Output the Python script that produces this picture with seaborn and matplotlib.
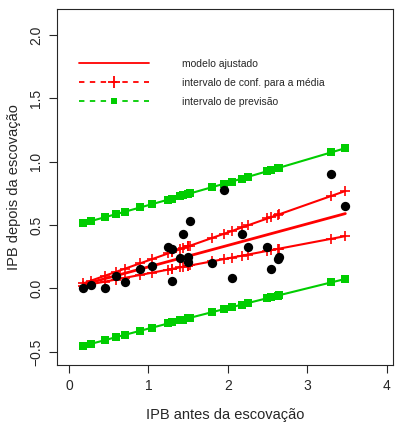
import numpy as np
import pandas as pd
import matplotlib
matplotlib.use("Agg")
import matplotlib.pyplot as plt
from matplotlib.lines import Line2D
import seaborn as sns

# dados (IPB antes / depois da escovação)
ipb_antes = [0.18, 0.28, 0.45, 0.59, 0.70, 0.90, 1.05, 1.25, 1.30, 1.30, 1.40, 1.44, 1.50,
             1.50, 1.53, 1.80, 1.95, 2.05, 2.18, 2.25, 2.50, 2.55, 2.63, 2.65, 3.30, 3.48]
ipb_depois = [0.00, 0.03, 0.00, 0.10, 0.05, 0.15, 0.18, 0.33, 0.31, 0.06, 0.24, 0.43, 0.25,
              0.21, 0.53, 0.20, 0.78, 0.08, 0.43, 0.33, 0.33, 0.15, 0.23, 0.25, 0.90, 0.65]
legenda = ["modelo ajustado", "intervalo de conf. para a média", "intervalo de previsão"]

datos = pd.DataFrame({"antes": ipb_antes, "depois": ipb_depois}).sort_values("antes")

# regressão pela origem (y = b*x) com intervalos de 99%
x = datos["antes"].to_numpy()
y = datos["depois"].to_numpy()
n = len(x)
sxx = np.sum(x ** 2)
b = np.sum(x * y) / sxx
ajuste = b * x
s = np.sqrt(np.sum((y - ajuste) ** 2) / (n - 1))
t = 2.787  # t(0.995, 25)
ep_media = s * np.sqrt(x ** 2 / sxx)
ep_prev = s * np.sqrt(1 + x ** 2 / sxx)
datos["ajuste"] = ajuste
datos["ic_inf"] = ajuste - t * ep_media
datos["ic_sup"] = ajuste + t * ep_media
datos["ip_inf"] = ajuste - t * ep_prev
datos["ip_sup"] = ajuste + t * ep_prev

sns.set_style("ticks")
plt.rcParams["font.family"] = ["Liberation Sans", "DejaVu Sans"]

fig = plt.figure(figsize=(3.98, 4.23), dpi=100)
ax = fig.add_axes([57 / 398, 58 / 423, 336 / 398, 356 / 423])

verde = "#00CD00"
vermelho = "#FF0000"
for col in ["ip_inf", "ip_sup"]:
    sns.lineplot(data=datos, x="antes", y=col, ax=ax, color=verde, lw=1.5, sort=False,
                 estimator=None, marker="s", markersize=5.8, markeredgewidth=0,
                 markerfacecolor=verde)
for col in ["ic_inf", "ic_sup"]:
    sns.lineplot(data=datos, x="antes", y=col, ax=ax, color=vermelho, lw=1.5, sort=False,
                 estimator=None, marker="+", markersize=7.5, markeredgewidth=1.2,
                 markeredgecolor=vermelho)
sns.lineplot(data=datos, x="antes", y="ajuste", ax=ax, color=vermelho, lw=2, sort=False,
             estimator=None)
sns.scatterplot(data=datos, x="antes", y="depois", ax=ax, color="black", s=45,
                linewidth=0, zorder=5)

ax.set_xlim(-0.15, 4.08)
ax.set_ylim(-0.604, 2.204)
ax.set_xticks([0, 1, 2, 3, 4])
ax.set_yticks([-0.5, 0.0, 0.5, 1.0, 1.5, 2.0])
ax.set_xticklabels(["0", "1", "2", "3", "4"])
ax.set_yticklabels(["\u22120.5", "0.0", "0.5", "1.0", "1.5", "2.0"], rotation=90, va="center")
ax.tick_params(length=6, width=0.8, labelsize=10, pad=4)
for sp in ax.spines.values():
    sp.set_visible(True)
    sp.set_linewidth(0.8)
ax.set_xlabel("IPB antes da escovação", fontsize=10.5, labelpad=11)
ax.set_ylabel("IPB depois da escovação", fontsize=10.5, labelpad=6)

alcas = [
    Line2D([], [], color=vermelho, lw=1.3),
    Line2D([], [], color=vermelho, lw=1.3, ls=(0, (3, 3)), marker="+", markersize=9,
           markeredgewidth=1.3),
    Line2D([], [], color=verde, lw=1.3, ls=(0, (3, 3)), marker="s", markersize=4,
           markeredgewidth=0),
]
ax.legend(alcas, legenda, loc="upper left", bbox_to_anchor=(0.065, 0.86), frameon=False,
          fontsize=7.5, handlelength=6.7, handletextpad=3.2, labelspacing=0.85,
          borderpad=0, borderaxespad=0)

fig.savefig("out.png", dpi=100)
